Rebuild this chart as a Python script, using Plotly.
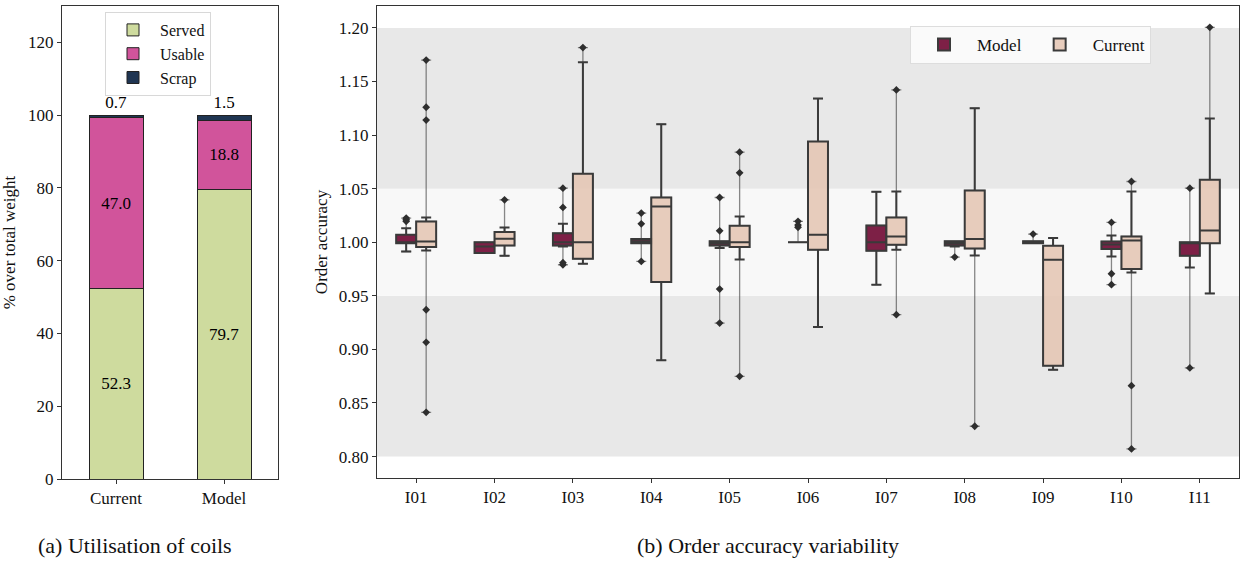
import plotly.graph_objects as go

# ---------------- data ----------------
coil_cats = ["Current", "Model"]
served = [52.3, 79.7]
usable = [47.0, 18.8]
scrap = [0.7, 1.5]

instances = ["I01", "I02", "I03", "I04", "I05", "I06", "I07", "I08", "I09", "I10", "I11"]

model_q1 = [0.999, 0.990, 0.997, 0.999, 0.997, 1.000, 0.992, 0.997, 0.999, 0.9937, 0.9874]
model_med = [1.000, 0.996, 1.000, 1.001, 0.999, 1.000, 1.000, 0.999, 1.000, 0.998, 1.000]
model_q3 = [1.007, 1.000, 1.0085, 1.003, 1.001, 1.000, 1.0157, 1.001, 1.001, 1.0008, 1.000]
model_lo = [0.9914, 0.990, 0.996, 0.999, 0.9946, 1.000, 0.9604, 0.996, 0.999, 0.9868, 0.9765]
model_hi = [1.013, 1.000, 1.0172, 1.003, 1.001, 1.000, 1.0471, 1.001, 1.001, 1.0064, 1.000]

current_q1 = [0.9955, 0.997, 0.9846, 0.9629, 0.9955, 0.993, 0.9977, 0.9942, 0.8848, 0.975, 0.9992]
current_med = [1.0008, 1.0033, 1.000, 1.0334, 1.000, 1.007, 1.0054, 1.003, 0.9837, 1.0017, 1.011]
current_q3 = [1.0194, 1.0095, 1.0639, 1.0418, 1.0154, 1.094, 1.0232, 1.0483, 0.9967, 1.0054, 1.0583]
current_lo = [0.9924, 0.9874, 0.980, 0.8898, 0.984, 0.9209, 0.993, 0.9877, 0.881, 0.9719, 0.9523]
current_hi = [1.0232, 1.0138, 1.168, 1.1102, 1.0241, 1.1341, 1.0474, 1.1251, 1.0039, 1.0474, 1.1154]

model_out_cat = ["I01", "I01", "I01", "I03", "I03", "I03", "I03", "I04", "I04", "I04",
                 "I05", "I05", "I05", "I05", "I06", "I06", "I06", "I08", "I09",
                 "I10", "I10", "I10", "I11", "I11"]
model_out_val = [1.0226, 1.021, 1.0195, 1.0505, 1.0325, 0.979, 0.981, 1.0272, 1.0172, 0.9821,
                 1.0418, 1.0107, 0.9563, 0.9246, 1.0195, 1.016, 1.014, 0.9862, 1.0076,
                 1.0185, 0.9706, 0.9604, 1.0505, 0.8827]

current_out_cat = ["I01", "I01", "I01", "I01", "I01", "I01", "I02", "I03",
                   "I05", "I05", "I05", "I07", "I07", "I08", "I10", "I10", "I10", "I11"]
current_out_val = [1.170, 1.126, 1.114, 0.937, 0.9066, 0.8413, 1.0396, 1.1817,
                   1.0841, 1.0648, 0.8749, 1.1422, 0.9324, 0.8283, 1.0567, 0.8662, 0.8071, 1.2006]

band_edges = [0.80, 0.95, 1.05, 1.20]
y_ticks = [0.80, 0.85, 0.90, 0.95, 1.00, 1.05, 1.10, 1.15, 1.20]


def extremes(lo, hi, out_cat, out_val):
    """Full range (whisker + outliers) per instance, for the faint outer whisker layer."""
    ext_lo, ext_hi = list(lo), list(hi)
    for c, v in zip(out_cat, out_val):
        i = instances.index(c)
        ext_lo[i] = min(ext_lo[i], v)
        ext_hi[i] = max(ext_hi[i], v)
    return ext_lo, ext_hi


model_ext_lo, model_ext_hi = extremes(model_lo, model_hi, model_out_cat, model_out_val)
current_ext_lo, current_ext_hi = extremes(current_lo, current_hi, current_out_cat, current_out_val)

# ---------------- layout geometry (page pixels) ----------------
W, H = 1242, 561


def px(x):
    return x / W


def py(y):
    return 1 - y / H


# ---------------- style ----------------
FONT = "Liberation Serif, Times New Roman, serif"
FS = 17
C_SERVED = "#cedb9e"
C_USABLE = "#d1549b"
C_SCRAP = "#1f3552"
C_MODEL = "#7d2046"
C_CURRENT = "rgba(228,196,177,0.85)"
EDGE = "#3a3a3a"
FAINT = "rgba(60,60,60,0.6)"

fig = go.Figure()

# ---- (a) stacked bars ----
for vals, name, col, pos in [(served, "Served", C_SERVED, "inside"),
                             (usable, "Usable", C_USABLE, "inside"),
                             (scrap, "Scrap", C_SCRAP, "outside")]:
    fig.add_trace(go.Bar(x=coil_cats, y=vals, name=name,
                         marker=dict(color=col, line=dict(color="#222", width=1)),
                         text=[f"{v:.1f}" for v in vals], textposition=pos, insidetextanchor="middle",
                         textfont=dict(size=FS, color="black", family=FONT), width=0.5, cliponaxis=False,
                         xaxis="x", yaxis="y", legend="legend"))

# ---- (b) boxes: faint outer whisker layer (to extremes) ----
for name, q1, med, q3, elo, ehi, og in [
        ("Model", model_q1, model_med, model_q3, model_ext_lo, model_ext_hi, "m"),
        ("Current", current_q1, current_med, current_q3, current_ext_lo, current_ext_hi, "c")]:
    fig.add_trace(go.Box(x=instances, q1=q1, median=med, q3=q3, lowerfence=elo, upperfence=ehi,
                         name=name, fillcolor="rgba(0,0,0,0)", line=dict(color=FAINT, width=1.3),
                         whiskerwidth=0.5, showlegend=False, hoverinfo="skip",
                         xaxis="x2", yaxis="y2", offsetgroup=og))

# main boxes
fig.add_trace(go.Box(x=instances, q1=model_q1, median=model_med, q3=model_q3,
                     lowerfence=model_lo, upperfence=model_hi, name="Model",
                     fillcolor=C_MODEL, line=dict(color=EDGE, width=2), whiskerwidth=0.5,
                     xaxis="x2", yaxis="y2", legend="legend2", offsetgroup="m"))
fig.add_trace(go.Box(x=instances, q1=current_q1, median=current_med, q3=current_q3,
                     lowerfence=current_lo, upperfence=current_hi, name="Current",
                     fillcolor=C_CURRENT, line=dict(color=EDGE, width=2), whiskerwidth=0.5,
                     xaxis="x2", yaxis="y2", legend="legend2", offsetgroup="c"))

# outliers
fig.add_trace(go.Scatter(x=model_out_cat, y=model_out_val, mode="markers", showlegend=False,
                         marker=dict(symbol="diamond", size=6, color="#2e2e2e"), orientation="v",
                         xaxis="x2", yaxis="y2", offsetgroup="m", alignmentgroup="out"))
fig.add_trace(go.Scatter(x=current_out_cat, y=current_out_val, mode="markers", showlegend=False,
                         marker=dict(symbol="diamond", size=6, color="#2e2e2e"), orientation="v",
                         xaxis="x2", yaxis="y2", offsetgroup="c", alignmentgroup="out"))

# background bands
band_colors = ["#e8e8e8", "#f8f8f8", "#e8e8e8"]
for i, col in enumerate(band_colors):
    fig.add_shape(type="rect", xref="x2 domain", yref="y2", x0=0, x1=1,
                  y0=band_edges[i], y1=band_edges[i + 1], fillcolor=col, line=dict(width=0), layer="below")

axis_common = dict(showline=True, mirror=True, linecolor="#333", linewidth=1, showgrid=False,
                   ticks="outside", ticklen=4, tickcolor="#333", zeroline=False, automargin=False,
                   tickfont=dict(family=FONT, size=FS, color="#111"))

fig.update_layout(
    width=W, height=H,
    margin=dict(l=0, r=0, t=0, b=0, autoexpand=False),
    paper_bgcolor="white", plot_bgcolor="white",
    font=dict(family=FONT, size=FS, color="#111"),
    barmode="stack",
    boxmode="group", boxgap=0.49, boxgroupgap=0.0,
    scattermode="group", scattergap=0.49,
    xaxis=dict(domain=[px(62), px(278)], range=[-0.5, 1.5], **axis_common),
    yaxis=dict(domain=[py(479), py(6)], range=[0, 130], tickvals=[0, 20, 40, 60, 80, 100, 120],
               title=dict(text="% over total weight", font=dict(family=FONT, size=FS), standoff=8),
               **axis_common),
    xaxis2=dict(domain=[px(377), px(1239)], range=[-0.5, 10.5], anchor="y2", **axis_common),
    yaxis2=dict(domain=[py(478), py(6)], range=[0.78, 1.2205], anchor="x2",
                tickvals=y_ticks, tickformat=".2f",
                title=dict(text="Order accuracy", font=dict(family=FONT, size=FS), standoff=6),
                **axis_common),
    legend=dict(x=px(105), y=py(12), xanchor="left", yanchor="top", bgcolor="white",
                bordercolor="#d8d8d8", borderwidth=1, font=dict(family=FONT, size=16),
                traceorder="normal", itemwidth=44, tracegroupgap=0),
    legend2=dict(x=px(910), y=py(26), xanchor="left", yanchor="top", orientation="h",
                 bgcolor="#fafafa", bordercolor="#dddddd", borderwidth=1, font=dict(family=FONT, size=17),
                 itemwidth=56),
    showlegend=True,
)

fig.add_annotation(text="(a) Utilisation of coils", x=px(36), y=py(545), xref="paper", yref="paper",
                   xanchor="left", yanchor="middle", showarrow=False, font=dict(family=FONT, size=22, color="#111"))
fig.add_annotation(text="(b) Order accuracy variability", x=px(635), y=py(545), xref="paper", yref="paper",
                   xanchor="left", yanchor="middle", showarrow=False, font=dict(family=FONT, size=22, color="#111"))

fig.write_html("out.html", config={"displayModeBar": False},
               post_script="document.body.style.margin='0';document.body.style.overflow='hidden';")
